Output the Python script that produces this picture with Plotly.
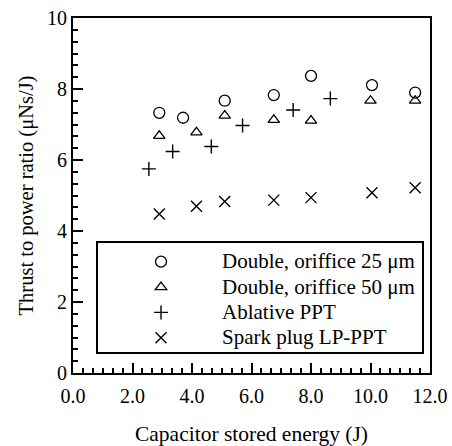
import plotly.graph_objects as go

# Data
x_circ = [2.9, 3.7, 5.1, 6.75, 8.0, 10.05, 11.5]
y_circ = [7.33, 7.19, 7.67, 7.83, 8.37, 8.11, 7.90]

x_tri = [2.9, 4.15, 5.1, 6.75, 8.0, 10.0, 11.5]
y_tri = [6.68, 6.78, 7.25, 7.13, 7.11, 7.67, 7.67]

x_plus = [2.55, 3.35, 4.65, 5.7, 7.4, 8.65]
y_plus = [5.75, 6.24, 6.38, 6.97, 7.41, 7.73]

x_cross = [2.9, 4.15, 5.1, 6.75, 8.0, 10.05, 11.5]
y_cross = [4.48, 4.70, 4.83, 4.87, 4.94, 5.08, 5.22]

names = ["Double, oriffice 25 μm", "Double, oriffice 50 μm", "Ablative PPT", "Spark plug LP-PPT"]
x_ticks = [0, 2, 4, 6, 8, 10, 12]
x_tick_labels = ["0.0", "2.0", "4.0", "6.0", "8.0", "10.0", "12.0"]
y_ticks = [0, 2, 4, 6, 8, 10]

FONT = "Liberation Serif, Times New Roman, serif"


def lg(name):
    return '<span style="font-size:21px">' + name + '</span>'


fig = go.Figure()
fig.add_trace(go.Scatter(x=x_circ, y=y_circ, mode="markers", name=lg(names[0]),
                         marker=dict(symbol="circle-open", size=11, color="black", line=dict(width=1.3))))
fig.add_trace(go.Scatter(x=x_tri, y=y_tri, mode="markers", name=lg(names[1]),
                         marker=dict(symbol="triangle-up-open", size=10, color="black", line=dict(width=1.3))))
fig.add_trace(go.Scatter(x=x_plus, y=y_plus, mode="markers", name=lg(names[2]),
                         marker=dict(symbol="cross-thin-open", size=10, color="black", line=dict(width=1.4))))
fig.add_trace(go.Scatter(x=x_cross, y=y_cross, mode="markers", name=lg(names[3]),
                         marker=dict(symbol="x-thin-open", size=11, color="black", line=dict(width=1.4))))

axis_common = dict(
    showgrid=False, zeroline=False, showline=True, linecolor="black", linewidth=2,
    mirror=True, ticks="inside", ticklen=10, tickwidth=2, tickcolor="black",
    tickfont=dict(family=FONT, size=20, color="black"), automargin=False,
)

fig.update_xaxes(range=[0, 12], tickvals=x_ticks, ticktext=x_tick_labels, ticklabelstandoff=4,
                 minor=dict(dtick=1/3, ticks="inside", ticklen=5, tickwidth=1.5, tickcolor="black", tick0=0),
                 title=dict(text="Capacitor stored energy (J)", font=dict(family=FONT, size=21.5, color="black"), standoff=26),
                 **axis_common)
fig.update_yaxes(range=[0, 10], tickvals=y_ticks,
                 minor=dict(dtick=1/3, ticks="inside", ticklen=5, tickwidth=1.5, tickcolor="black", tick0=0),
                 title=dict(text="Thrust to power ratio (μNs/J)", font=dict(family=FONT, size=20.5, color="black"), standoff=8),
                 **axis_common)

fig.add_shape(type="rect", xref="paper", yref="paper",
              x0=(97 - 73) / 357, x1=(423 - 73) / 357,
              y0=(373 - 353) / 355, y1=(373 - 242) / 355,
              line=dict(color="black", width=2), fillcolor="white", layer="below")

fig.update_layout(
    width=452, height=446,
    margin=dict(l=73, r=22, t=18, b=73),
    paper_bgcolor="white", plot_bgcolor="white",
    font=dict(family=FONT, color="black"),
    legend=dict(x=(100 - 73) / 357, y=(373 - 244) / 355, xanchor="left", yanchor="top",
                bgcolor="rgba(0,0,0,0)", borderwidth=0,
                font=dict(family=FONT, size=17.2, color="black"),
                itemwidth=112, tracegroupgap=0),
)

fig.write_html("out.html")
